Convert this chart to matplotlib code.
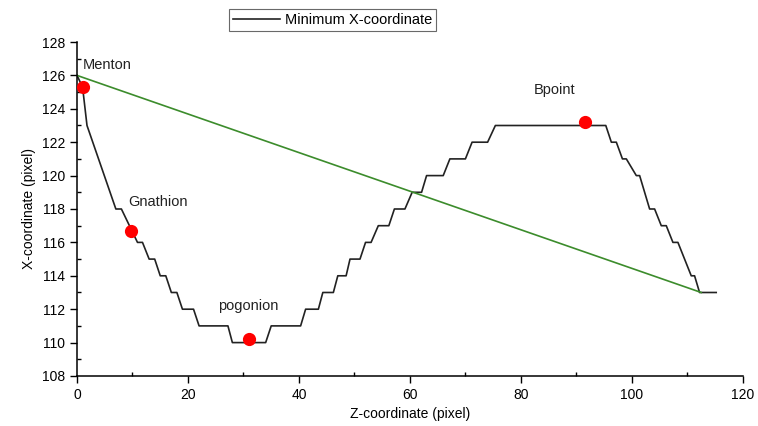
import matplotlib
matplotlib.use("Agg")
import matplotlib.pyplot as plt
from matplotlib.ticker import MultipleLocator

plt.rcParams['font.family'] = ['Liberation Sans', 'DejaVu Sans']

# Profile (polyline vertices)
z_profile = [0, 1, 1.8, 7, 8, 10.9, 11.8, 13, 14, 15, 16, 17, 18, 19, 21, 22, 27.2, 28, 34,
             35, 40.3, 41.2, 43.5, 44.3, 46.2, 47, 48.5, 49.2, 51, 52, 53, 54.3, 56.2,
             57.2, 59.1, 60.4, 62.1, 63, 66, 67.2, 70, 71.2, 74, 75.4, 95.3, 96.3, 97.2,
             98.3, 99, 100.8, 101.4, 103.2, 104.1, 105.3, 106.2, 107.4, 108.3, 110.7,
             111.3, 112.2, 115.2]
x_profile = [126, 125.3, 123, 118, 118, 116, 116, 115, 115, 114, 114, 113, 113, 112, 112,
             111, 111, 110, 110, 111, 111, 112, 112, 113, 113, 114, 114, 115, 115, 116,
             116, 117, 117, 118, 118, 119, 119, 120, 120, 121, 121, 122, 122, 123, 123,
             122, 122, 121, 121, 120, 120, 118, 118, 117, 117, 116, 116, 114, 114, 113, 113]

# Reference line
z_line = [0, 112.5]
x_line = [126, 113]

# Landmarks
landmark_names = ["Menton", "Gnathion", "pogonion", "Bpoint"]
landmark_z = [1, 9.7, 31, 91.6]
landmark_x = [125.3, 116.7, 110.2, 123.2]
label_z = [5.5, 14.6, 30.8, 86.1]
label_x = [126.6, 118.4, 112.2, 125.1]

fig = plt.figure(figsize=(7.58, 4.26), dpi=100)
ax = fig.add_axes([0.1016, 0.1174, 0.8784, 0.784])

line, = ax.plot(z_profile, x_profile, color='#222222', lw=1.2, label='Minimum X-coordinate')
ax.plot(z_line, x_line, color='#3c8c2c', lw=1.2)
ax.plot(landmark_z, landmark_x, 'o', color='#ff0000', ms=9.5, mec='none', zorder=5)
for name, zz, xx in zip(landmark_names, label_z, label_x):
    ax.text(zz, xx, name, ha='center', va='center', fontsize=10.5, color='#222222')

ax.set_xlim(0, 120)
ax.set_ylim(108, 128)
ax.xaxis.set_major_locator(MultipleLocator(20))
ax.xaxis.set_minor_locator(MultipleLocator(10))
ax.yaxis.set_major_locator(MultipleLocator(2))
ax.yaxis.set_minor_locator(MultipleLocator(1))
ax.tick_params(which='major', direction='out', length=5, width=1, labelsize=10)
ax.tick_params(which='minor', direction='in', length=3, width=1)
for s in ['top', 'right']:
    ax.spines[s].set_visible(False)
for s in ['left', 'bottom']:
    ax.spines[s].set_linewidth(1.1)

ax.set_xlabel('Z-coordinate (pixel)', fontsize=10)
ax.set_ylabel('X-coordinate (pixel)', fontsize=10)

leg = fig.legend(handles=[line], loc='center', bbox_to_anchor=(0.439, 0.953),
                 fontsize=10.5, frameon=True, fancybox=False, edgecolor='#444444',
                 handlelength=3.2, borderpad=0.25, handletextpad=0.4)
leg.get_frame().set_linewidth(0.8)

fig.savefig('out.png', dpi=100)
